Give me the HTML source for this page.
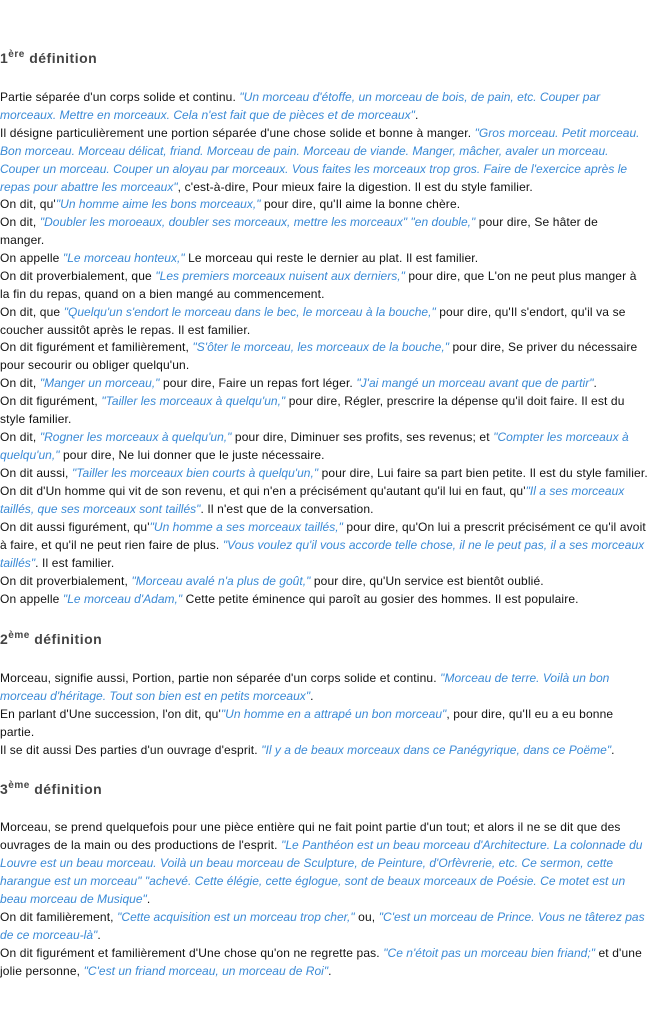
<!DOCTYPE html>
<html><head><meta charset="utf-8"><style>
html,body{margin:0;padding:0;background:#fff;width:652px;height:1018px;overflow:hidden}
body{position:relative;font-family:"Liberation Sans",Arial,sans-serif;font-size:12px;color:#111}
.l{position:absolute;left:0;white-space:nowrap;line-height:18px;height:18px;letter-spacing:0.14px}
i{color:#3a8ad6;letter-spacing:0.02px}
.h{position:absolute;left:0;font-weight:bold;font-size:14px;color:#444;white-space:nowrap;line-height:18px;letter-spacing:0.5px}
.h sup{font-size:10px;vertical-align:6px;line-height:0}
</style></head><body>
<div class="h" style="top:49px">1<sup>ère</sup> définition</div>
<div class="l" style="top:88px">Partie séparée d'un corps solide et continu. <i>"Un morceau d'étoffe, un morceau de bois, de pain, etc. Couper par</i></div>
<div class="l" style="top:106px"><i>morceaux. Mettre en morceaux. Cela n'est fait que de pièces et de morceaux"</i>.</div>
<div class="l" style="top:124px">Il désigne particulièrement une portion séparée d'une chose solide et bonne à manger. <i>"Gros morceau. Petit morceau.</i></div>
<div class="l" style="top:142px"><i>Bon morceau. Morceau délicat, friand. Morceau de pain. Morceau de viande. Manger, mâcher, avaler un morceau.</i></div>
<div class="l" style="top:160px"><i>Couper un morceau. Couper un aloyau par morceaux. Vous faites les morceaux trop gros. Faire de l'exercice après le</i></div>
<div class="l" style="top:178px"><i>repas pour abattre les morceaux"</i>, c'est-à-dire, Pour mieux faire la digestion. Il est du style familier.</div>
<div class="l" style="top:195px">On dit, qu'<i>"Un homme aime les bons morceaux,"</i> pour dire, qu'Il aime la bonne chère.</div>
<div class="l" style="top:213px">On dit, <i>"Doubler les moroeaux, doubler ses morceaux, mettre les morceaux" "en double,"</i> pour dire, Se hâter de</div>
<div class="l" style="top:231px">manger.</div>
<div class="l" style="top:249px">On appelle <i>"Le morceau honteux,"</i> Le morceau qui reste le dernier au plat. Il est familier.</div>
<div class="l" style="top:267px">On dit proverbialement, que <i>"Les premiers morceaux nuisent aux derniers,"</i> pour dire, que L'on ne peut plus manger à</div>
<div class="l" style="top:285px">la fin du repas, quand on a bien mangé au commencement.</div>
<div class="l" style="top:303px">On dit, que <i>"Quelqu'un s'endort le morceau dans le bec, le morceau à la bouche,"</i> pour dire, qu'Il s'endort, qu'il va se</div>
<div class="l" style="top:321px">coucher aussitôt après le repas. Il est familier.</div>
<div class="l" style="top:338px">On dit figurément et familièrement, <i>"S'ôter le morceau, les morceaux de la bouche,"</i> pour dire, Se priver du nécessaire</div>
<div class="l" style="top:356px">pour secourir ou obliger quelqu'un.</div>
<div class="l" style="top:374px">On dit, <i>"Manger un morceau,"</i> pour dire, Faire un repas fort léger. <i>"J'ai mangé un morceau avant que de partir"</i>.</div>
<div class="l" style="top:392px">On dit figurément, <i>"Tailler les morceaux à quelqu'un,"</i> pour dire, Régler, prescrire la dépense qu'il doit faire. Il est du</div>
<div class="l" style="top:410px">style familier.</div>
<div class="l" style="top:428px">On dit, <i>"Rogner les morceaux à quelqu'un,"</i> pour dire, Diminuer ses profits, ses revenus; et <i>"Compter les morceaux à</i></div>
<div class="l" style="top:446px"><i>quelqu'un,"</i> pour dire, Ne lui donner que le juste nécessaire.</div>
<div class="l" style="top:464px">On dit aussi, <i>"Tailler les morceaux bien courts à quelqu'un,"</i> pour dire, Lui faire sa part bien petite. Il est du style familier.</div>
<div class="l" style="top:482px">On dit d'Un homme qui vit de son revenu, et qui n'en a précisément qu'autant qu'il lui en faut, qu'<i>"Il a ses morceaux</i></div>
<div class="l" style="top:500px"><i>taillés, que ses morceaux sont taillés"</i>. Il n'est que de la conversation.</div>
<div class="l" style="top:518px">On dit aussi figurément, qu'<i>"Un homme a ses morceaux taillés,"</i> pour dire, qu'On lui a prescrit précisément ce qu'il avoit</div>
<div class="l" style="top:536px">à faire, et qu'il ne peut rien faire de plus. <i>"Vous voulez qu'il vous accorde telle chose, il ne le peut pas, il a ses morceaux</i></div>
<div class="l" style="top:554px"><i>taillés"</i>. Il est familier.</div>
<div class="l" style="top:572px">On dit proverbialement, <i>"Morceau avalé n'a plus de goût,"</i> pour dire, qu'Un service est bientôt oublié.</div>
<div class="l" style="top:590px">On appelle <i>"Le morceau d'Adam,"</i> Cette petite éminence qui paroît au gosier des hommes. Il est populaire.</div>
<div class="h" style="top:630px">2<sup>ème</sup> définition</div>
<div class="l" style="top:669px">Morceau, signifie aussi, Portion, partie non séparée d'un corps solide et continu. <i>"Morceau de terre. Voilà un bon</i></div>
<div class="l" style="top:687px"><i>morceau d'héritage. Tout son bien est en petits morceaux"</i>.</div>
<div class="l" style="top:705px">En parlant d'Une succession, l'on dit, qu'<i>"Un homme en a attrapé un bon morceau"</i>, pour dire, qu'Il eu a eu bonne</div>
<div class="l" style="top:723px">partie.</div>
<div class="l" style="top:741px">Il se dit aussi Des parties d'un ouvrage d'esprit. <i>"Il y a de beaux morceaux dans ce Panégyrique, dans ce Poëme"</i>.</div>
<div class="h" style="top:780px">3<sup>ème</sup> définition</div>
<div class="l" style="top:818px">Morceau, se prend quelquefois pour une pièce entière qui ne fait point partie d'un tout; et alors il ne se dit que des</div>
<div class="l" style="top:836px">ouvrages de la main ou des productions de l'esprit. <i>"Le Panthéon est un beau morceau d'Architecture. La colonnade du</i></div>
<div class="l" style="top:854px"><i>Louvre est un beau morceau. Voilà un beau morceau de Sculpture, de Peinture, d'Orfèvrerie, etc. Ce sermon, cette</i></div>
<div class="l" style="top:872px"><i>harangue est un morceau" "achevé. Cette élégie, cette églogue, sont de beaux morceaux de Poésie. Ce motet est un</i></div>
<div class="l" style="top:890px"><i>beau morceau de Musique"</i>.</div>
<div class="l" style="top:908px">On dit familièrement, <i>"Cette acquisition est un morceau trop cher,"</i> ou, <i>"C'est un morceau de Prince. Vous ne tâterez pas</i></div>
<div class="l" style="top:926px"><i>de ce morceau-là"</i>.</div>
<div class="l" style="top:944px">On dit figurément et familièrement d'Une chose qu'on ne regrette pas. <i>"Ce n'étoit pas un morceau bien friand;"</i> et d'une</div>
<div class="l" style="top:962px">jolie personne, <i>"C'est un friand morceau, un morceau de Roi"</i>.</div>
</body></html>
